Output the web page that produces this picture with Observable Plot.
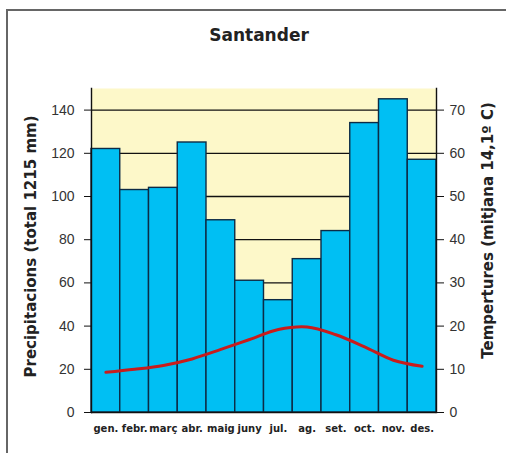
<!DOCTYPE html>
<html>
<head>
<meta charset="utf-8">
<script src="https://cdn.jsdelivr.net/npm/d3@7"></script>
<script src="https://cdn.jsdelivr.net/npm/@observablehq/plot@0.6"></script>
<style>
  html, body { margin: 0; padding: 0; background: #fff; }
  #wrap { position: relative; width: 506px; height: 453px; overflow: hidden; }
  #border { position: absolute; left: 6px; top: 9px; width: 620px; height: 620px;
            border-left: 2px solid #666; border-top: 2px solid #666; }
  #title { position: relative; height: 60px; }
  #title span { position: absolute; left: 0; width: 518px; top: 27px; text-align: center;
                font: bold 17px "DejaVu Sans", sans-serif; line-height: 17px; color: #222; }
  #chart { position: relative; }
  #chart svg { overflow: visible; }
</style>
</head>
<body>
<div id="wrap">
  <div id="border"></div>
  <div id="title"><span>Santander</span></div>
  <div id="chart"></div>
</div>
<script>
const months = ["gen.","febr.","març","abr.","maig","juny","jul.","ag.","set.","oct.","nov.","des."];
const precip = [122,103,104,125,89,61,52,71,84,134,145,117];
const temp = [9.3,10.0,10.9,12.4,14.6,16.9,19.2,19.8,18.0,15.2,12.1,10.7];
const precipTicks = [0,20,40,60,80,100,120,140];
const gridTicks = [20,40,60,80,100,120,140];
const leftLabel = "Precipitacions (total 1215 mm)";
const rightLabel = "Tempertures (mitjana 14,1º C)";

const data = months.map((m, i) => ({month: m, precip: precip[i], temp: temp[i]}));

const chart = Plot.plot({
  width: 506,
  height: 393,
  marginLeft: 91,
  marginRight: 70,
  marginTop: 28,
  marginBottom: 41,
  style: {fontFamily: "'Liberation Sans', Arial, sans-serif", color: "#222", background: "transparent", overflow: "visible"},
  x: {type: "band", domain: months, padding: 0, round: false},
  y: {domain: [0, 150]},
  marks: [
    Plot.frame({fill: "#fdf8c9", stroke: "none"}),
    Plot.ruleY(gridTicks, {stroke: "#111", strokeWidth: 1.3}),
    Plot.barY(data, {x: "month", y: "precip", fill: "#00bff3", stroke: "#0d2b45", strokeWidth: 1.4, inset: 0}),
    Plot.line(data, {x: "month", y: d => d.temp * 2, curve: "catmull-rom", stroke: "#c81c1c", strokeWidth: 3}),
    Plot.frame({anchor: "left", stroke: "#111", strokeWidth: 1.4}),
    Plot.frame({anchor: "right", stroke: "#111", strokeWidth: 1.4}),
    Plot.ruleY([0], {stroke: "#111", strokeWidth: 1.6}),
    Plot.axisY({ticks: precipTicks, tickSize: 7, tickPadding: 10, fontSize: 14, label: null, stroke: "#111", fill: "#333"}),
    Plot.axisY({anchor: "right", ticks: precipTicks, tickFormat: d => String(d / 2), tickSize: 7, tickPadding: 6, fontSize: 14, label: null, stroke: "#111", fill: "#333"}),
    Plot.axisX({tickSize: 0, tickPadding: 12, fontSize: 10, fontWeight: "bold", fontFamily: "'DejaVu Sans', sans-serif", label: null, fill: "#222"}),
    Plot.text([leftLabel], {frameAnchor: "left", textAnchor: "middle", lineAnchor: "middle", rotate: -90, dx: -60, dy: -4, fontSize: 15, fontWeight: "bold", fontFamily: "'DejaVu Sans', sans-serif", fill: "#222"}),
    Plot.text([rightLabel], {frameAnchor: "right", textAnchor: "middle", lineAnchor: "middle", rotate: -90, dx: 52, dy: -20, fontSize: 15, fontWeight: "bold", fontFamily: "'DejaVu Sans', sans-serif", fill: "#222"})
  ]
});
document.getElementById("chart").appendChild(chart);
</script>
</body>
</html>
